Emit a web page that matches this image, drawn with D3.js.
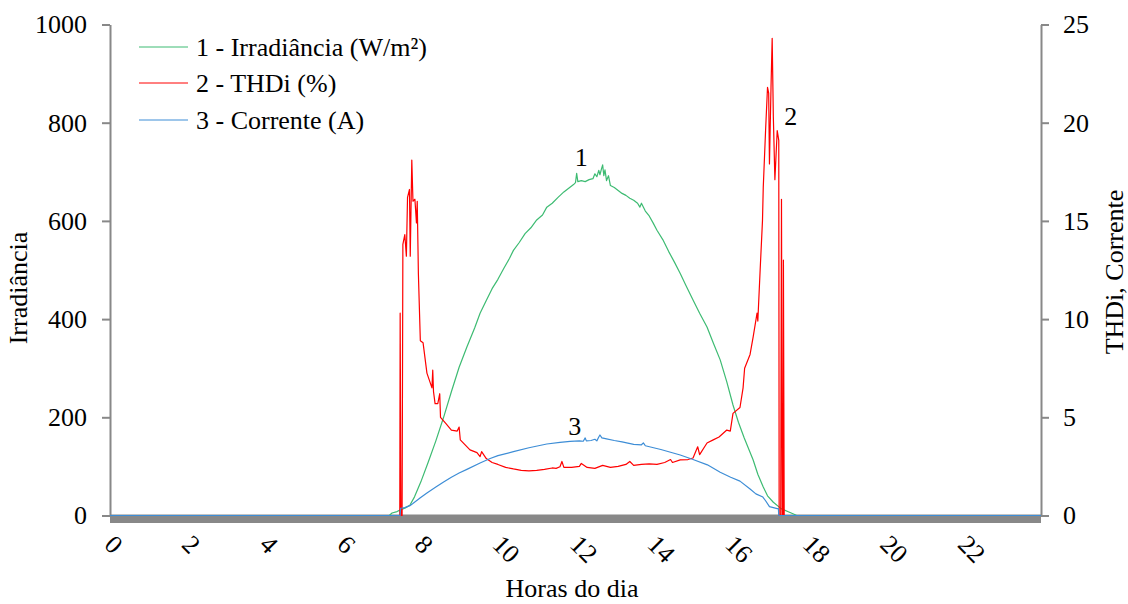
<!DOCTYPE html>
<html><head><meta charset="utf-8">
<script src="https://cdn.jsdelivr.net/npm/d3@7"></script>
<style>
html,body{margin:0;padding:0;background:#fff;}
svg text{font-family:"Liberation Serif","Times New Roman",Tinos,"DejaVu Serif",serif !important;fill:#000;}
</style></head>
<body>
<svg id="chart" width="1128" height="604"></svg>
<script>
// ---- data ----
const xTicks = [0,2,4,6,8,10,12,14,16,18,20,22];
const leftTicks = [0,200,400,600,800,1000];
const rightTicks = [0,5,10,15,20,25];
const seriesNames = ["1 - Irradiância (W/m²)","2 - THDi (%)","3 - Corrente (A)"];
const seriesColors = ["#3dbb72","#ff0000","#3d8dd6"];

const irrHours = [0,7.2,7.27,7.4,7.5,7.6,7.73,7.85,8.03,8.2,8.4,8.6,8.8,9.0,9.2,9.4,9.54,9.7,9.85,10.0,10.15,10.3,10.4,10.55,10.7,10.85,11.0,11.15,11.26,11.4,11.55,11.7,11.85,11.95,12.0,12.03,12.06,12.15,12.25,12.35,12.45,12.5,12.55,12.6,12.63,12.67,12.7,12.73,12.76,12.8,12.85,12.9,13.0,13.1,13.2,13.3,13.4,13.5,13.6,13.66,13.7,13.8,13.9,14.0,14.1,14.25,14.4,14.55,14.7,14.85,15.03,15.2,15.39,15.55,15.73,15.9,16.06,16.2,16.35,16.58,16.7,16.84,16.95,17.1,17.3,17.5,17.65,17.7,24];
const irrValues = [0,0,5,8,12,15,21,38,72,108,152,200,252,302,343,382,412,438,462,481,503,524,540,556,574,586,602,612,628,636,648,659,668,674,678,697,680,682,680,684,686,696,690,703,694,706,714,692,704,682,692,672,668,662,656,652,646,642,636,628,636,620,610,596,581,562,538,516,493,468,439,412,384,352,317,272,225,190,158,113,84,58,40,27,14,7,2,0,0];

const thdHours = [0,7.47,7.48,7.5,7.53,7.55,7.6,7.64,7.67,7.72,7.74,7.78,7.81,7.86,7.9,7.92,7.95,8.0,8.07,8.17,8.3,8.32,8.34,8.38,8.45,8.5,8.52,8.65,8.8,8.95,9.0,9.03,9.28,9.46,9.54,9.58,9.7,9.85,10.0,10.2,10.4,10.6,10.8,11.0,11.2,11.4,11.5,11.6,11.65,11.7,11.9,12.1,12.15,12.3,12.5,12.7,12.9,13.1,13.3,13.4,13.5,13.7,13.9,14.1,14.3,14.45,14.5,14.7,14.9,15.03,15.15,15.2,15.39,15.55,15.7,15.9,15.99,16.06,16.24,16.32,16.36,16.5,16.58,16.68,16.7,16.76,16.82,16.84,16.9,16.95,16.98,17.0,17.04,17.07,17.1,17.14,17.2,17.24,17.25,17.29,17.31,17.33,17.35,17.36,17.38,24];
const thdValues = [0,0,10.3,0,0,13.8,14.3,13.2,16.2,16.6,13.2,18.1,16.0,16.1,14.9,16.0,12.3,8.9,8.8,7.25,6.5,7.4,6.3,5.7,5.7,6.2,5.0,4.7,4.35,4.3,4.5,3.85,3.34,3.2,3.0,3.25,2.9,2.7,2.6,2.45,2.37,2.3,2.27,2.3,2.35,2.42,2.4,2.48,2.75,2.45,2.45,2.5,2.65,2.45,2.4,2.55,2.45,2.5,2.6,2.75,2.55,2.6,2.63,2.6,2.7,2.85,2.7,2.83,2.85,2.93,3.5,3.1,3.69,3.85,4.0,4.35,4.3,5.2,5.5,6.5,7.5,8.2,9.1,10.3,9.9,12.5,15.0,16.7,19.6,21.8,21.5,17.9,21.8,24.3,20.3,17.1,19.6,19.1,0,0,16.1,0,0,13.0,0,0];

const curHours = [0,7.48,7.49,7.6,7.73,7.8,8.0,8.17,8.4,8.6,8.8,9.0,9.2,9.54,9.8,10.0,10.4,10.8,11.26,11.6,11.86,12.1,12.2,12.25,12.28,12.4,12.5,12.55,12.6,12.63,12.68,12.8,13.0,13.2,13.5,13.7,13.75,13.8,14.2,14.7,15.03,15.4,15.73,16.0,16.24,16.5,16.65,16.83,16.9,17.0,17.1,17.2,17.23,17.24,24];
const curValues = [0,0,0.37,0.4,0.5,0.6,0.9,1.15,1.45,1.7,1.95,2.16,2.35,2.67,2.9,3.05,3.25,3.45,3.64,3.72,3.77,3.8,3.78,3.95,3.8,3.82,3.88,3.8,4.0,4.1,3.95,3.9,3.82,3.75,3.62,3.6,3.7,3.55,3.36,3.08,2.85,2.58,2.2,1.95,1.75,1.35,1.1,0.94,0.75,0.45,0.4,0.35,0.35,0,0];

// ---- layout ----
const svg = d3.select("#chart");
const X0 = 110, X1 = 1041, YT = 24.5, YB = 515.5;
const x = d3.scaleLinear().domain([0,24]).range([X0,X1]);
const yL = d3.scaleLinear().domain([0,1000]).range([YB,YT]);
const yR = d3.scaleLinear().domain([0,25]).range([YB,YT]);
const FS = 26;
const FF = "Liberation Serif";
const gray = "#888888";

// baseline band
svg.append("rect").attr("x",X0).attr("y",YB-1).attr("width",X1-X0).attr("height",8.5).attr("fill",gray);

// left axis
const gL = svg.append("g").attr("transform",`translate(${X0},0)`)
  .call(d3.axisLeft(yL).tickValues(leftTicks).tickSize(8).tickSizeOuter(0).tickPadding(15).tickFormat(d3.format("d")));
gL.attr("font-family",FF).attr("font-size",FS);
gL.select(".domain").attr("stroke",gray).attr("stroke-width",2);
gL.selectAll(".tick line").attr("stroke",gray).attr("stroke-width",2);
gL.selectAll(".tick text").attr("fill","#000");

// right axis
const gR = svg.append("g").attr("transform",`translate(${X1},0)`)
  .call(d3.axisRight(yR).tickValues(rightTicks).tickSize(8).tickSizeOuter(0).tickPadding(14).tickFormat(d3.format("d")));
gR.attr("font-family",FF).attr("font-size",FS);
gR.select(".domain").attr("stroke",gray).attr("stroke-width",2);
gR.selectAll(".tick line").attr("stroke",gray).attr("stroke-width",2);
gR.selectAll(".tick text").attr("fill","#000");

// x tick labels (rotated)
svg.append("g").selectAll("text").data(xTicks).join("text")
  .attr("transform",d=>`translate(${x(d)-7},546) rotate(45)`)
  .attr("font-size",FS).attr("text-anchor","start")
  .text(d=>d);

// series lines
function drawLine(hours, values, yScale, color){
  const pts = hours.map((h,i)=>[h,values[i]]);
  svg.append("path").datum(pts)
    .attr("fill","none").attr("stroke",color).attr("stroke-width",1.2)
    .attr("stroke-linejoin","round")
    .attr("d", d3.line().x(d=>x(d[0])).y(d=>yScale(d[1])));
}
drawLine(irrHours, irrValues, yL, seriesColors[0]);
drawLine(thdHours, thdValues, yR, seriesColors[1]);
drawLine(curHours, curValues, yR, seriesColors[2]);

// axis titles
svg.append("text").attr("transform","translate(27,288) rotate(-90)").attr("text-anchor","middle")
  .attr("font-size",FS).text("Irradiância");
svg.append("text").attr("transform","translate(1123,272) rotate(-90)").attr("text-anchor","middle")
  .attr("font-size",FS).text("THDi, Corrente");
svg.append("text").attr("x",572).attr("y",597).attr("text-anchor","middle")
  .attr("font-size",FS).text("Horas do dia");

// legend
const legY = [47,83,120];
seriesNames.forEach((n,i)=>{
  svg.append("line").attr("x1",139).attr("x2",188).attr("y1",legY[i]).attr("y2",legY[i])
    .attr("stroke",seriesColors[i]).attr("stroke-width",1);
  svg.append("text").attr("x",196).attr("y",legY[i]).attr("dy","0.33em")
    .attr("font-size",FS).text(n);
});

// series annotations
const annot = [["1",12.15,712,yL],["2",17.55,19.9,yR],["3",11.98,4.1,yR]];
annot.forEach(a=>{
  svg.append("text").attr("x",x(a[1])).attr("y",a[3](a[2])).attr("text-anchor","middle")
    .attr("font-size",FS).text(a[0]);
});
</script>
</body></html>
